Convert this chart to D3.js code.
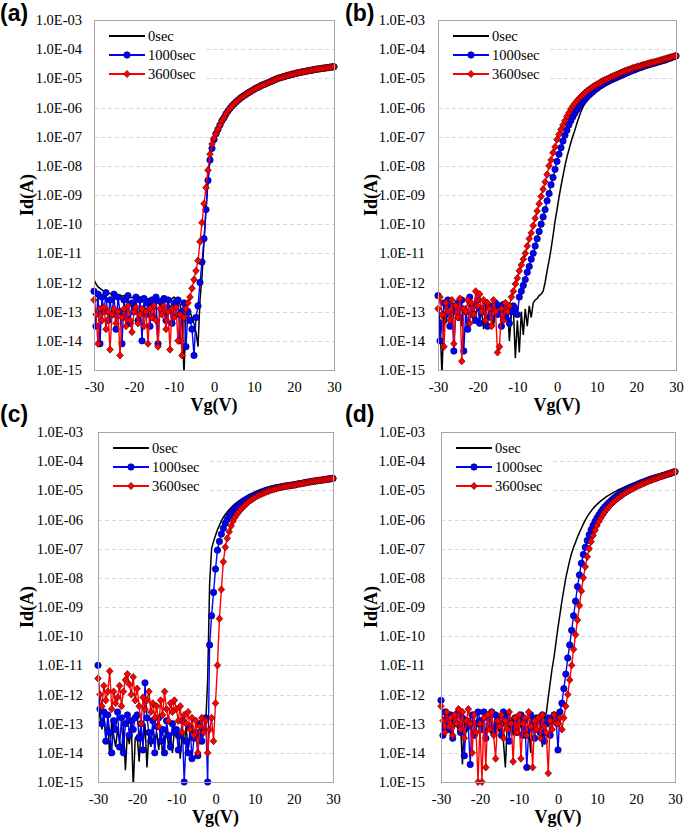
<!DOCTYPE html>
<html><head><meta charset="utf-8">
<script src="https://cdn.jsdelivr.net/npm/d3@7"></script>
<style>body{margin:0;background:#fff;} svg{display:block;}</style>
</head><body>
<svg id="chart" width="685" height="828"></svg>
<script>
// Gate voltage (V)
const vg = [
-30,-29.5,-29,-28.5,-28,-27.5,-27,-26.5,-26,-25.5,
-25,-24.5,-24,-23.5,-23,-22.5,-22,-21.5,-21,-20.5,
-20,-19.5,-19,-18.5,-18,-17.5,-17,-16.5,-16,-15.5,
-15,-14.5,-14,-13.5,-13,-12.5,-12,-11.5,-11,-10.5,
-10,-9.5,-9,-8.5,-8,-7.5,-7,-6.5,-6,-5.5,
-5,-4.5,-4,-3.5,-3,-2.5,-2,-1.5,-1,-0.5,
0,0.5,1,1.5,2,2.5,3,3.5,4,4.5,
5,5.5,6,6.5,7,7.5,8,8.5,9,9.5,
10,10.5,11,11.5,12,12.5,13,13.5,14,14.5,
15,15.5,16,16.5,17,17.5,18,18.5,19,19.5,
20,20.5,21,21.5,22,22.5,23,23.5,24,24.5,
25,25.5,26,26.5,27,27.5,28,28.5,29,29.5,
30];

const seriesNames = ["0sec","1000sec","3600sec"];
const panelLabels = ["(a)","(b)","(c)","(d)"];
const yTickValues = [1e-3,1e-4,1e-5,1e-6,1e-7,1e-8,1e-9,1e-10,1e-11,1e-12,1e-13,1e-14,1e-15];
const yTickLabels = ["1.0E-03","1.0E-04","1.0E-05","1.0E-06","1.0E-07","1.0E-08","1.0E-09","1.0E-10","1.0E-11","1.0E-12","1.0E-13","1.0E-14","1.0E-15"];
const xTickValues = [-30,-20,-10,0,10,20,30];
const xTickLabels = ["-30","-20","-10","0","10","20","30"];
const xTitle = "Vg(V)";
const yTitle = "Id(A)";

// log10(Id) values
const a_0sec = [
-11.9,-12.05,-12.15,-12.2,-12.25,-12.3,-12.28,-12.35,-12.38,-12.4,
-12.42,-12.4,-12.45,-12.43,-12.47,-12.45,-12.5,-12.48,-12.5,-12.52,
-12.5,-12.55,-12.52,-12.5,-12.56,-12.55,-12.58,-12.55,-12.6,-12.57,
-12.6,-12.58,-12.62,-12.6,-12.55,-12.62,-12.6,-12.65,-12.6,-12.55,
-12.5,-12.6,-12.65,-12.75,-13.1,-15.2,-13.0,-12.9,-13.0,-13.2,
-13.4,-13.7,-14.2,-12.6,-11.8,-10.6,-9.5,-8.5,-7.8,-7.4,
-7.1,-6.9,-6.75,-6.6,-6.45,-6.35,-6.22,-6.12,-6.03,-5.95,
-5.88,-5.81,-5.75,-5.69,-5.64,-5.59,-5.55,-5.5,-5.46,-5.42,
-5.38,-5.34,-5.31,-5.27,-5.24,-5.21,-5.18,-5.15,-5.12,-5.09,
-5.06,-5.03,-5.0,-4.98,-4.96,-4.94,-4.92,-4.9,-4.88,-4.86,
-4.85,-4.83,-4.81,-4.8,-4.78,-4.77,-4.76,-4.74,-4.73,-4.72,
-4.7,-4.69,-4.68,-4.67,-4.66,-4.65,-4.64,-4.63,-4.62,-4.61,
-4.6];
const a_1000sec = [
-12.3,-13.5,-12.4,-14.1,-12.5,-13.0,-12.35,-13.3,-12.6,-13.1,
-12.4,-13.6,-12.5,-13.0,-14.1,-12.6,-13.2,-12.45,-13.4,-12.7,
-13.0,-12.5,-13.3,-12.6,-14.0,-12.55,-13.1,-12.7,-13.5,-12.6,
-13.2,-12.5,-14.1,-12.65,-13.0,-12.55,-13.3,-12.6,-12.9,-13.4,
-12.7,-13.1,-12.6,-14.0,-13.0,-12.7,-14.2,-13.0,-13.3,-13.6,
-14.5,-13.2,-12.8,-12.0,-11.3,-10.5,-9.5,-8.5,-7.8,-7.4,
-7.1,-6.9,-6.75,-6.6,-6.45,-6.35,-6.22,-6.12,-6.03,-5.95,
-5.88,-5.81,-5.75,-5.69,-5.64,-5.59,-5.55,-5.5,-5.46,-5.42,
-5.38,-5.34,-5.31,-5.27,-5.24,-5.21,-5.18,-5.15,-5.12,-5.09,
-5.06,-5.03,-5.0,-4.98,-4.96,-4.94,-4.92,-4.9,-4.88,-4.86,
-4.85,-4.83,-4.81,-4.8,-4.78,-4.77,-4.76,-4.74,-4.73,-4.72,
-4.7,-4.69,-4.68,-4.67,-4.66,-4.65,-4.64,-4.63,-4.62,-4.61,
-4.6];
const a_3600sec = [
-12.6,-13.1,-14.1,-12.9,-13.3,-12.85,-13.6,-13.0,-14.3,-13.1,
-12.9,-13.4,-13.0,-14.5,-13.2,-12.9,-13.5,-12.8,-13.3,-13.7,
-13.0,-12.85,-13.4,-13.1,-12.9,-13.5,-13.0,-14.1,-12.9,-13.2,
-12.8,-13.3,-14.2,-12.9,-13.1,-12.8,-13.6,-13.0,-14.3,-12.9,
-13.2,-12.85,-14.0,-13.1,-14.5,-13.2,-12.9,-12.7,-12.5,-12.2,
-11.9,-11.6,-11.25,-10.6,-9.95,-9.3,-8.75,-8.15,-7.6,-7.25,
-7.05,-6.9,-6.75,-6.6,-6.45,-6.35,-6.22,-6.12,-6.03,-5.95,
-5.88,-5.81,-5.75,-5.69,-5.64,-5.59,-5.55,-5.5,-5.46,-5.42,
-5.38,-5.34,-5.31,-5.27,-5.24,-5.21,-5.18,-5.15,-5.12,-5.09,
-5.06,-5.03,-5.0,-4.98,-4.96,-4.94,-4.92,-4.9,-4.88,-4.86,
-4.85,-4.83,-4.81,-4.8,-4.78,-4.77,-4.76,-4.74,-4.73,-4.72,
-4.7,-4.69,-4.68,-4.67,-4.66,-4.65,-4.64,-4.63,-4.62,-4.61,
-4.6];

const b_0sec = [
-12.8,-13.3,-15.2,-13.0,-13.4,-12.9,-13.2,-13.6,-12.9,-13.1,
-13.3,-12.9,-13.5,-13.0,-12.8,-13.7,-13.1,-12.9,-13.4,-13.0,
-12.9,-13.2,-13.0,-13.6,-12.8,-13.3,-12.9,-13.1,-13.5,-12.9,
-13.1,-12.8,-13.4,-12.9,-13.2,-12.85,-14.0,-13.1,-12.9,-14.6,
-13.3,-14.4,-13.0,-13.8,-12.9,-13.5,-12.8,-13.2,-12.7,-12.6,
-12.55,-12.45,-12.4,-12.3,-12.0,-11.6,-11.25,-10.85,-10.4,-9.9,
-9.5,-9.08,-8.7,-8.35,-8.0,-7.7,-7.45,-7.2,-6.98,-6.78,
-6.55,-6.35,-6.15,-6.0,-5.88,-5.78,-5.69,-5.62,-5.55,-5.49,
-5.43,-5.37,-5.32,-5.27,-5.22,-5.18,-5.14,-5.1,-5.06,-5.03,
-5.0,-4.96,-4.93,-4.9,-4.86,-4.83,-4.8,-4.77,-4.74,-4.71,
-4.69,-4.66,-4.63,-4.61,-4.58,-4.56,-4.54,-4.52,-4.5,-4.48,
-4.46,-4.44,-4.42,-4.4,-4.38,-4.36,-4.33,-4.31,-4.28,-4.26,
-4.23];
const b_1000sec = [
-12.45,-14.0,-13.4,-12.7,-13.1,-12.6,-13.5,-12.8,-14.35,-13.0,
-12.7,-13.2,-12.6,-14.35,-13.0,-13.6,-12.5,-13.1,-12.8,-13.3,
-12.6,-13.4,-12.9,-13.0,-12.7,-13.5,-12.8,-13.2,-12.9,-12.7,
-13.1,-12.8,-13.5,-12.75,-13.2,-12.9,-13.4,-13.0,-12.8,-12.9,
-13.1,-12.5,-12.3,-12.1,-11.9,-11.65,-11.45,-11.2,-11.0,-10.75,
-10.5,-10.25,-10.0,-9.75,-9.5,-9.2,-8.95,-8.65,-8.4,-8.12,
-7.85,-7.6,-7.38,-7.15,-6.95,-6.78,-6.6,-6.45,-6.32,-6.2,
-6.08,-5.97,-5.88,-5.8,-5.72,-5.65,-5.58,-5.52,-5.46,-5.4,
-5.35,-5.3,-5.25,-5.21,-5.17,-5.13,-5.1,-5.06,-5.03,-5.0,
-4.97,-4.94,-4.91,-4.88,-4.85,-4.82,-4.79,-4.76,-4.73,-4.71,
-4.68,-4.65,-4.63,-4.61,-4.58,-4.56,-4.54,-4.52,-4.5,-4.48,
-4.46,-4.44,-4.42,-4.4,-4.38,-4.36,-4.33,-4.31,-4.28,-4.26,
-4.23];
const b_3600sec = [
-12.9,-12.5,-13.1,-14.2,-12.7,-13.0,-13.3,-12.6,-14.1,-12.8,
-13.2,-12.55,-14.7,-12.9,-13.0,-12.6,-13.4,-12.7,-13.1,-12.3,
-12.8,-12.4,-13.0,-12.6,-13.3,-12.7,-12.9,-13.5,-12.6,-13.0,
-14.4,-14.2,-12.9,-13.3,-12.7,-13.0,-12.8,-12.5,-12.3,-12.05,
-11.85,-11.6,-11.4,-11.2,-11.0,-10.75,-10.5,-10.3,-10.05,-9.8,
-9.55,-9.3,-9.05,-8.8,-8.55,-8.3,-8.0,-7.8,-7.55,-7.35,
-7.1,-6.92,-6.75,-6.6,-6.45,-6.3,-6.18,-6.05,-5.95,-5.86,
-5.78,-5.7,-5.63,-5.56,-5.5,-5.44,-5.39,-5.34,-5.29,-5.25,
-5.21,-5.17,-5.13,-5.09,-5.06,-5.03,-5.0,-4.96,-4.93,-4.9,
-4.87,-4.84,-4.81,-4.78,-4.75,-4.73,-4.7,-4.68,-4.65,-4.63,
-4.61,-4.59,-4.57,-4.55,-4.53,-4.51,-4.49,-4.47,-4.45,-4.44,
-4.42,-4.4,-4.38,-4.36,-4.34,-4.32,-4.3,-4.28,-4.26,-4.25,
-4.23];

const c_0sec = [
-12.3,-12.8,-13.2,-12.7,-13.5,-13.0,-14.1,-12.9,-13.4,-13.8,
-13.2,-13.6,-14.0,-13.1,-14.6,-13.3,-13.7,-13.0,-15.2,-13.5,
-13.4,-14.3,-13.2,-13.7,-13.0,-14.5,-13.3,-13.8,-13.1,-13.6,
-13.3,-13.9,-13.2,-14.1,-13.5,-13.1,-13.8,-13.4,-14.0,-13.2,
-13.5,-13.2,-14.2,-13.3,-13.7,-13.1,-13.9,-13.4,-13.2,-13.6,
-13.3,-13.5,-13.1,-13.7,-13.2,-13.0,-11.5,-8.2,-7.0,-6.75,
-6.55,-6.35,-6.2,-6.05,-5.93,-5.83,-5.74,-5.66,-5.59,-5.52,
-5.46,-5.41,-5.36,-5.32,-5.28,-5.24,-5.2,-5.17,-5.14,-5.11,
-5.09,-5.07,-5.05,-5.03,-5.01,-4.99,-4.97,-4.96,-4.94,-4.93,
-4.92,-4.91,-4.89,-4.88,-4.87,-4.86,-4.85,-4.84,-4.83,-4.82,
-4.81,-4.8,-4.78,-4.77,-4.76,-4.75,-4.73,-4.72,-4.71,-4.7,
-4.69,-4.68,-4.67,-4.66,-4.65,-4.64,-4.63,-4.62,-4.61,-4.6,
-4.59];
const c_1000sec = [
-11.0,-12.5,-13.0,-12.6,-13.6,-12.7,-13.3,-14.0,-12.9,-13.2,
-12.6,-13.8,-12.8,-14.0,-13.0,-12.7,-13.4,-12.9,-13.2,-12.8,
-12.7,-13.5,-13.0,-13.9,-11.6,-12.8,-13.3,-13.6,-12.9,-14.0,
-13.1,-12.8,-13.6,-13.2,-14.0,-12.9,-13.4,-13.8,-13.0,-13.3,
-13.2,-13.9,-13.4,-12.9,-15.0,-13.6,-14.0,-13.1,-14.2,-13.5,
-13.3,-14.1,-13.0,-13.6,-13.2,-12.8,-15.0,-10.3,-9.3,-8.5,
-7.7,-7.05,-6.75,-6.5,-6.3,-6.13,-6.0,-5.88,-5.78,-5.7,
-5.62,-5.56,-5.5,-5.44,-5.39,-5.34,-5.3,-5.26,-5.22,-5.19,
-5.16,-5.13,-5.1,-5.07,-5.05,-5.02,-5.0,-4.98,-4.96,-4.94,
-4.93,-4.91,-4.9,-4.89,-4.87,-4.86,-4.85,-4.84,-4.83,-4.82,
-4.81,-4.8,-4.78,-4.77,-4.76,-4.75,-4.73,-4.72,-4.71,-4.7,
-4.69,-4.68,-4.67,-4.66,-4.65,-4.64,-4.63,-4.62,-4.61,-4.6,
-4.59];
const c_3600sec = [
-11.45,-12.0,-12.4,-11.7,-12.2,-11.9,-11.2,-12.5,-11.9,-12.3,
-12.1,-11.7,-12.4,-11.9,-11.5,-11.3,-11.65,-12.0,-11.4,-12.2,
-11.8,-12.4,-13.0,-12.1,-12.5,-12.2,-11.9,-12.6,-12.3,-12.8,
-12.4,-13.1,-12.2,-12.7,-11.9,-12.5,-12.9,-12.3,-12.6,-12.2,
-12.5,-12.9,-12.4,-13.3,-12.7,-13.0,-12.6,-13.2,-12.8,-13.4,
-12.9,-14.0,-13.1,-12.8,-13.3,-12.9,-14.0,-13.2,-12.8,-13.6,
-12.3,-11.0,-9.4,-8.4,-7.45,-6.95,-6.65,-6.42,-6.22,-6.05,
-5.92,-5.82,-5.73,-5.65,-5.58,-5.51,-5.45,-5.39,-5.34,-5.29,
-5.25,-5.21,-5.17,-5.14,-5.11,-5.08,-5.05,-5.03,-5.0,-4.98,
-4.96,-4.94,-4.92,-4.9,-4.89,-4.87,-4.86,-4.85,-4.84,-4.83,
-4.82,-4.81,-4.79,-4.78,-4.77,-4.75,-4.74,-4.73,-4.71,-4.7,
-4.69,-4.68,-4.67,-4.66,-4.65,-4.64,-4.63,-4.62,-4.61,-4.6,
-4.59];

const d_0sec = [
-12.4,-13.0,-12.7,-13.2,-12.9,-13.4,-12.8,-13.1,-12.9,-13.3,
-13.0,-14.4,-12.9,-13.3,-13.1,-12.8,-13.5,-13.0,-13.2,-12.9,
-13.4,-12.8,-13.1,-13.6,-12.9,-13.2,-13.0,-13.4,-12.8,-13.1,
-13.3,-12.9,-13.6,-14.5,-13.0,-13.2,-12.8,-13.4,-13.1,-12.9,
-13.2,-13.0,-13.5,-12.9,-13.3,-13.1,-14.0,-12.8,-13.2,-13.0,
-13.4,-12.9,-13.8,-12.7,-12.65,-12.1,-11.6,-11.1,-10.7,-10.2,
-9.7,-9.25,-8.8,-8.4,-8.0,-7.7,-7.4,-7.15,-6.95,-6.78,
-6.6,-6.45,-6.3,-6.15,-6.02,-5.9,-5.8,-5.71,-5.62,-5.55,
-5.48,-5.42,-5.36,-5.31,-5.26,-5.21,-5.17,-5.13,-5.09,-5.05,
-5.02,-4.98,-4.95,-4.92,-4.89,-4.86,-4.83,-4.8,-4.78,-4.75,
-4.73,-4.71,-4.69,-4.67,-4.65,-4.63,-4.61,-4.59,-4.57,-4.55,
-4.53,-4.52,-4.5,-4.48,-4.47,-4.45,-4.43,-4.41,-4.4,-4.38,
-4.36];
const d_1000sec = [
-12.2,-13.4,-12.6,-12.9,-13.2,-12.7,-13.5,-12.8,-13.0,-12.6,
-13.3,-12.8,-14.1,-12.9,-13.1,-14.4,-12.7,-13.4,-13.0,-12.6,
-12.9,-13.2,-12.6,-13.5,-12.8,-13.0,-12.6,-13.3,-12.7,-13.1,
-12.8,-13.4,-12.6,-13.0,-12.7,-13.6,-12.9,-13.1,-12.8,-13.3,
-13.0,-12.7,-13.4,-12.9,-14.5,-13.2,-12.7,-13.0,-13.5,-12.8,
-12.9,-13.3,-12.7,-13.6,-13.0,-12.8,-13.4,-12.9,-12.7,-12.8,
-13.9,-12.6,-12.3,-11.8,-11.3,-10.75,-10.3,-9.8,-9.3,-8.8,
-8.3,-7.9,-7.5,-7.2,-6.95,-6.72,-6.52,-6.35,-6.2,-6.07,
-5.95,-5.84,-5.74,-5.65,-5.57,-5.5,-5.43,-5.37,-5.31,-5.25,
-5.2,-5.15,-5.1,-5.06,-5.02,-4.98,-4.94,-4.91,-4.88,-4.85,
-4.82,-4.79,-4.76,-4.73,-4.71,-4.68,-4.66,-4.63,-4.61,-4.59,
-4.57,-4.55,-4.53,-4.51,-4.49,-4.47,-4.45,-4.43,-4.41,-4.38,
-4.36];
const d_3600sec = [
-12.4,-12.9,-13.3,-12.6,-13.1,-12.8,-13.4,-12.7,-13.0,-12.5,
-13.2,-12.6,-13.5,-12.9,-12.5,-13.0,-14.0,-12.7,-13.3,-15.0,
-13.0,-15.0,-12.8,-14.5,-12.7,-13.2,-12.6,-13.4,-14.2,-12.9,
-13.1,-12.7,-13.5,-12.9,-13.2,-12.6,-13.0,-14.3,-12.8,-13.3,
-12.7,-14.2,-13.0,-12.8,-13.4,-12.6,-13.1,-14.5,-12.9,-13.2,
-12.8,-13.5,-12.7,-13.1,-13.3,-14.7,-12.9,-13.2,-12.7,-13.0,
-13.0,-12.8,-13.2,-12.8,-12.4,-12.0,-11.5,-11.0,-10.45,-9.95,
-9.45,-8.95,-8.45,-8.0,-7.62,-7.28,-7.0,-6.76,-6.55,-6.37,
-6.21,-6.07,-5.95,-5.84,-5.74,-5.65,-5.57,-5.5,-5.43,-5.37,
-5.31,-5.26,-5.21,-5.16,-5.11,-5.07,-5.03,-4.99,-4.95,-4.92,
-4.88,-4.85,-4.82,-4.79,-4.76,-4.73,-4.7,-4.67,-4.65,-4.62,
-4.6,-4.57,-4.55,-4.52,-4.5,-4.47,-4.45,-4.42,-4.4,-4.38,
-4.36];

const panelSeries = [
  [a_0sec, a_1000sec, a_3600sec],
  [b_0sec, b_1000sec, b_3600sec],
  [c_0sec, c_1000sec, c_3600sec],
  [d_0sec, d_1000sec, d_3600sec]
];

// layout (pixel geometry, not data)
const layout = [
  {x0:94,  x1:334, y0:20,  y1:370, tickRight:82,  titleX:27,  labelX:0,   labelY:21},
  {x0:438, x1:676, y0:20,  y1:370, tickRight:425, titleX:371, labelX:345, labelY:21},
  {x0:98,  x1:333, y0:432, y1:782, tickRight:83,  titleX:27,  labelX:0,   labelY:422},
  {x0:441, x1:675, y0:432, y1:782, tickRight:425, titleX:371, labelX:345, labelY:422}
];
const lineColors = ["#000000", "#0000ff", "#ff0000"];
const markerStroke = [null, "#000060", "#600000"];
const serif = "'Liberation Serif','Times New Roman',serif";

const svg = d3.select("#chart");
const diamond = "M0,-3.6L3.3,0L0,3.6L-3.3,0Z";

function drawMarker(sel, si, cx, cy) {
  if (si === 1) {
    sel.append("circle").attr("cx", cx).attr("cy", cy).attr("r", 3.2)
      .attr("fill", "#0000ff").attr("stroke", markerStroke[1]).attr("stroke-width", 0.7);
  } else if (si === 2) {
    sel.append("path").attr("d", diamond).attr("transform", `translate(${cx},${cy})`)
      .attr("fill", "#ff0000").attr("stroke", markerStroke[2]).attr("stroke-width", 0.7);
  }
}

layout.forEach((L, pi) => {
  const x = d3.scaleLinear().domain([-30, 30]).range([L.x0, L.x1]);
  const y = d3.scaleLog().domain([1e-15, 1e-3]).range([L.y1, L.y0]);
  const g = svg.append("g");

  // gridlines
  g.append("g").selectAll("line").data(yTickValues.slice(1, -1)).join("line")
    .attr("x1", L.x0).attr("x2", L.x1)
    .attr("y1", d => Math.round(y(d)) + 0.5).attr("y2", d => Math.round(y(d)) + 0.5)
    .attr("stroke", "#d4d7de").attr("stroke-width", 1).attr("stroke-dasharray", "4,3");

  // legend background (covers gridlines)
  g.append("rect").attr("x", L.x0 + 1).attr("y", L.y0 + 1).attr("width", 108).attr("height", 66)
    .attr("fill", "#fff");

  // clip for lines
  const clipId = "clip" + pi;
  svg.append("clipPath").attr("id", clipId).append("rect")
    .attr("x", L.x0).attr("y", L.y0).attr("width", L.x1 - L.x0).attr("height", L.y1 - L.y0);

  const series = panelSeries[pi];
  const lineGen = d3.line().x((d, i) => x(vg[i])).y(d => y(Math.pow(10, d)));
  series.forEach((vals, si) => {
    g.append("path").datum(vals).attr("d", lineGen)
      .attr("fill", "none").attr("stroke", lineColors[si]).attr("stroke-width", si === 0 ? 1.5 : 1.4)
      .attr("clip-path", `url(#${clipId})`);
    if (si > 0) {
      const mg = g.append("g");
      vals.forEach((v, i) => {
        if (v >= -15.05 && v <= -3) drawMarker(mg, si, x(vg[i]), y(Math.pow(10, v)));
      });
    }
  });

  // border
  g.append("rect").attr("x", L.x0 + 0.5).attr("y", L.y0 + 0.5)
    .attr("width", L.x1 - L.x0).attr("height", L.y1 - L.y0)
    .attr("fill", "none").attr("stroke", "#a6a6a6").attr("stroke-width", 1);

  // y axis
  const ya = g.append("g").attr("transform", `translate(${L.tickRight},0)`)
    .call(d3.axisLeft(y).tickValues(yTickValues).tickFormat((d, i) => yTickLabels[i]).tickSize(0).tickPadding(0));
  ya.select(".domain").remove();
  ya.selectAll("text").attr("font-family", serif).attr("font-size", "14.5px").attr("fill", "#000");

  // x axis
  const xa = g.append("g").attr("transform", `translate(0,${L.y1})`)
    .call(d3.axisBottom(x).tickValues(xTickValues).tickFormat((d, i) => xTickLabels[i]).tickSize(0).tickPadding(11.5));
  xa.select(".domain").remove();
  xa.selectAll("text").attr("font-family", serif).attr("font-size", "14.5px").attr("fill", "#000");

  // axis titles
  g.append("text").attr("x", (L.x0 + L.x1) / 2).attr("y", L.y1 + 41)
    .attr("text-anchor", "middle").attr("font-family", serif).attr("font-weight", "bold")
    .attr("font-size", "18px").text(xTitle);
  g.append("text").attr("transform", `translate(${L.titleX},${(L.y0 + L.y1) / 2}) rotate(-90)`)
    .attr("text-anchor", "middle").attr("dominant-baseline", "central")
    .attr("font-family", serif).attr("font-weight", "bold").attr("font-size", "18px").text(yTitle);

  // panel label
  g.append("text").attr("x", L.labelX).attr("y", L.labelY)
    .attr("font-family", "'Liberation Sans',Arial,sans-serif").attr("font-weight", "bold")
    .attr("font-size", "23px").text(panelLabels[pi]);

  // legend
  const rows = [16, 35, 54];
  seriesNames.forEach((name, si) => {
    const ly = L.y0 + rows[si];
    g.append("line").attr("x1", L.x0 + 15).attr("x2", L.x0 + 51).attr("y1", ly).attr("y2", ly)
      .attr("stroke", lineColors[si]).attr("stroke-width", 2);
    drawMarker(g, si, L.x0 + 33, ly);
    g.append("text").attr("x", L.x0 + 54).attr("y", ly).attr("dy", "0.35em")
      .attr("font-family", serif).attr("font-size", "14.5px").text(name);
  });
});
</script>
</body></html>
